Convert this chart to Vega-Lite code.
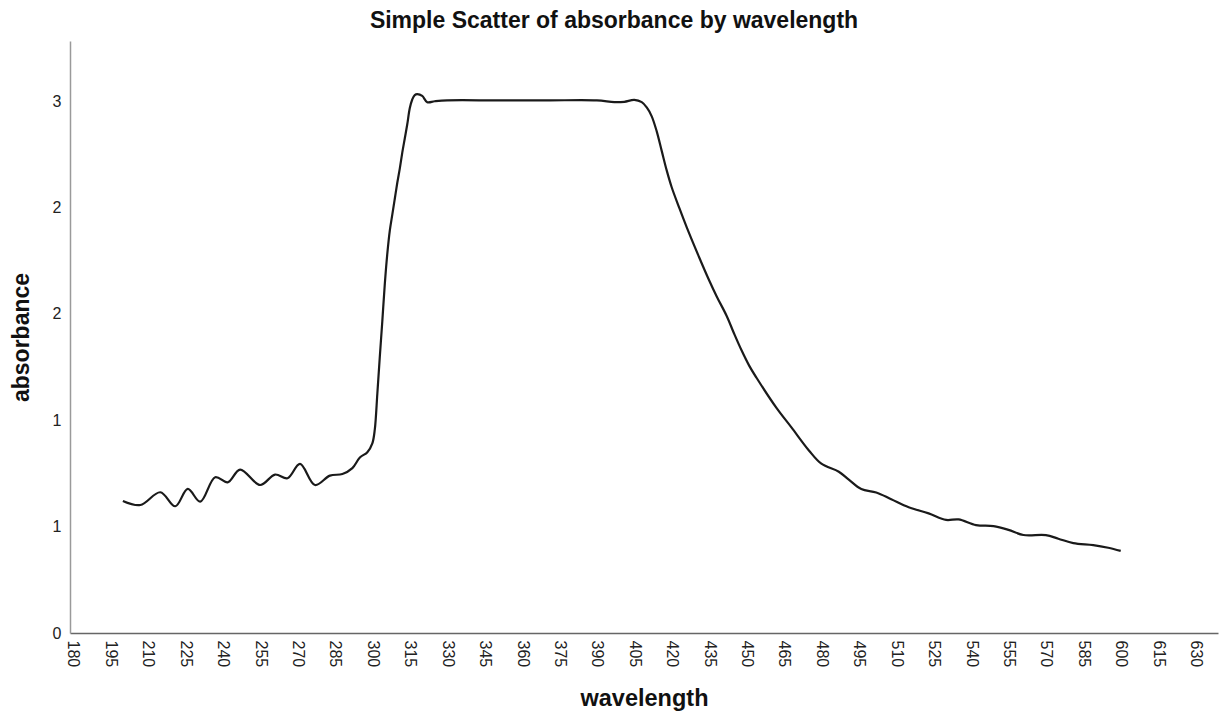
{
  "$schema": "https://vega.github.io/schema/vega-lite/v6.json",
  "autosize": "none",
  "width": 1148,
  "height": 592,
  "padding": {"left": 70, "top": 41, "right": 3, "bottom": 84},
  "background": "white",
  "title": {
    "text": "Simple Scatter of absorbance by wavelength",
    "font": "Liberation Sans",
    "fontSize": 23,
    "fontWeight": "bold",
    "color": "#111111",
    "anchor": "middle",
    "frame": "group",
    "dx": -30,
    "offset": 8
  },
  "config": {
    "view": {"stroke": null},
    "axis": {
      "labelFont": "Liberation Sans",
      "titleFont": "Liberation Sans",
      "labelColor": "#222222",
      "titleColor": "#111111",
      "domainWidth": 1.5,
      "ticks": false,
      "grid": false
    }
  },
  "data": {
    "values": [
      {"wavelength": 200, "absorbance": 0.745},
      {"wavelength": 207, "absorbance": 0.722},
      {"wavelength": 215, "absorbance": 0.794},
      {"wavelength": 221, "absorbance": 0.715},
      {"wavelength": 226, "absorbance": 0.813},
      {"wavelength": 231, "absorbance": 0.741},
      {"wavelength": 237, "absorbance": 0.879},
      {"wavelength": 242, "absorbance": 0.85},
      {"wavelength": 247, "absorbance": 0.922},
      {"wavelength": 255, "absorbance": 0.835},
      {"wavelength": 261, "absorbance": 0.894},
      {"wavelength": 266, "absorbance": 0.873},
      {"wavelength": 271, "absorbance": 0.954},
      {"wavelength": 277, "absorbance": 0.835},
      {"wavelength": 283, "absorbance": 0.888},
      {"wavelength": 288, "absorbance": 0.897},
      {"wavelength": 292, "absorbance": 0.93},
      {"wavelength": 295, "absorbance": 0.99},
      {"wavelength": 298, "absorbance": 1.02},
      {"wavelength": 300, "absorbance": 1.07},
      {"wavelength": 301, "absorbance": 1.15},
      {"wavelength": 302, "absorbance": 1.35},
      {"wavelength": 303, "absorbance": 1.56},
      {"wavelength": 304, "absorbance": 1.76},
      {"wavelength": 305, "absorbance": 1.97},
      {"wavelength": 306, "absorbance": 2.14},
      {"wavelength": 307, "absorbance": 2.27},
      {"wavelength": 308, "absorbance": 2.36},
      {"wavelength": 309, "absorbance": 2.45},
      {"wavelength": 310, "absorbance": 2.54},
      {"wavelength": 311, "absorbance": 2.62},
      {"wavelength": 312, "absorbance": 2.71},
      {"wavelength": 313, "absorbance": 2.79},
      {"wavelength": 314, "absorbance": 2.87},
      {"wavelength": 315, "absorbance": 2.96},
      {"wavelength": 316, "absorbance": 3.01},
      {"wavelength": 317, "absorbance": 3.035},
      {"wavelength": 318, "absorbance": 3.04},
      {"wavelength": 320, "absorbance": 3.03},
      {"wavelength": 322, "absorbance": 2.995},
      {"wavelength": 325, "absorbance": 3.0},
      {"wavelength": 330, "absorbance": 3.005},
      {"wavelength": 350, "absorbance": 3.005},
      {"wavelength": 370, "absorbance": 3.005},
      {"wavelength": 390, "absorbance": 3.005},
      {"wavelength": 397, "absorbance": 2.995},
      {"wavelength": 401, "absorbance": 2.997},
      {"wavelength": 405, "absorbance": 3.008},
      {"wavelength": 408, "absorbance": 2.995},
      {"wavelength": 410, "absorbance": 2.965},
      {"wavelength": 412, "absorbance": 2.915},
      {"wavelength": 414, "absorbance": 2.83},
      {"wavelength": 416, "absorbance": 2.72},
      {"wavelength": 418, "absorbance": 2.61},
      {"wavelength": 420, "absorbance": 2.515},
      {"wavelength": 423, "absorbance": 2.4},
      {"wavelength": 426, "absorbance": 2.29},
      {"wavelength": 431, "absorbance": 2.12},
      {"wavelength": 435, "absorbance": 1.99},
      {"wavelength": 438, "absorbance": 1.9},
      {"wavelength": 442, "absorbance": 1.79},
      {"wavelength": 445, "absorbance": 1.69},
      {"wavelength": 448, "absorbance": 1.595},
      {"wavelength": 451, "absorbance": 1.51},
      {"wavelength": 454, "absorbance": 1.44},
      {"wavelength": 462, "absorbance": 1.27},
      {"wavelength": 468, "absorbance": 1.16},
      {"wavelength": 475, "absorbance": 1.03},
      {"wavelength": 480, "absorbance": 0.955},
      {"wavelength": 487, "absorbance": 0.91},
      {"wavelength": 491, "absorbance": 0.865},
      {"wavelength": 496, "absorbance": 0.812},
      {"wavelength": 502, "absorbance": 0.793},
      {"wavelength": 508, "absorbance": 0.755},
      {"wavelength": 515, "absorbance": 0.71},
      {"wavelength": 523, "absorbance": 0.675},
      {"wavelength": 530, "absorbance": 0.638},
      {"wavelength": 535, "absorbance": 0.641},
      {"wavelength": 542, "absorbance": 0.609},
      {"wavelength": 549, "absorbance": 0.603},
      {"wavelength": 555, "absorbance": 0.582},
      {"wavelength": 561, "absorbance": 0.553},
      {"wavelength": 570, "absorbance": 0.552},
      {"wavelength": 575, "absorbance": 0.532},
      {"wavelength": 581, "absorbance": 0.507},
      {"wavelength": 589, "absorbance": 0.496},
      {"wavelength": 595, "absorbance": 0.481},
      {"wavelength": 600, "absorbance": 0.463}
    ]
  },
  "mark": {"type": "line", "interpolate": "catmull-rom", "color": "#1a1a1a", "strokeWidth": 2.2},
  "encoding": {
    "x": {
      "field": "wavelength",
      "type": "quantitative",
      "scale": {"domain": [178.8, 639], "nice": false, "zero": false},
      "axis": {
        "title": "wavelength",
        "titleFontSize": 23.5,
        "titleFontWeight": "bold",
        "titlePadding": 20,
        "domainColor": "#666666",
        "values": [180, 195, 210, 225, 240, 255, 270, 285, 300, 315, 330, 345, 360, 375, 390, 405, 420, 435, 450, 465, 480, 495, 510, 525, 540, 555, 570, 585, 600, 615, 630],
        "labelAngle": 90,
        "labelAlign": "left",
        "labelBaseline": "middle",
        "labelFontSize": 16,
        "labelPadding": 7,
        "labelOverlap": false
      }
    },
    "y": {
      "field": "absorbance",
      "type": "quantitative",
      "scale": {"domain": [0, 3.34], "nice": false},
      "axis": {
        "title": "absorbance",
        "titleFontSize": 23,
        "titleFontWeight": "bold",
        "titlePadding": 19,
        "domainColor": "#9a9a9a",
        "values": [0, 0.6, 1.2, 1.8, 2.4, 3.0],
        "format": ".0f",
        "labelFontSize": 16,
        "labelPadding": 9,
        "labelOverlap": false
      }
    }
  }
}
